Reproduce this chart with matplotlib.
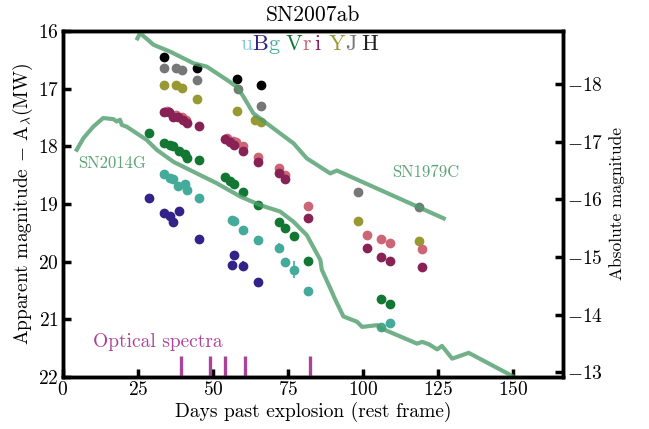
import matplotlib
matplotlib.use('Agg')
import matplotlib.pyplot as plt

plt.rcParams['font.family'] = 'serif'
plt.rcParams['font.serif'] = ['cmr10']
plt.rcParams['mathtext.fontset'] = 'cm'
plt.rcParams['axes.formatter.use_mathtext'] = True

# photometry of SN2007ab (days past explosion, apparent mag)
H_days = [33.7, 44.6, 58.1, 66.0]
H_mag = [16.45, 16.65, 16.83, 16.94]

J_days = [33.7, 37.7, 39.7, 44.6, 58.3, 66.0, 98.2, 118.7]
J_mag = [16.65, 16.65, 16.68, 16.85, 17.00, 17.30, 18.80, 19.05]

Y_days = [33.7, 37.7, 39.7, 44.6, 58.1, 64.0, 66.0, 98.2, 118.7]
Y_mag = [16.94, 16.94, 16.99, 17.18, 17.39, 17.54, 17.58, 19.29, 19.64]

r_days = [34.5, 37.5, 39.5, 41.0, 54.5, 56.5, 57.5, 60.1, 65.1, 71.8, 73.8, 81.6, 101.2, 106.0, 109.0, 119.6]
r_mag = [17.38, 17.45, 17.50, 17.55, 17.86, 17.90, 17.93, 17.99, 18.18, 18.38, 18.50, 19.03, 19.54, 19.61, 19.67, 19.78]

i_days = [33.7, 35.4, 36.6, 38.4, 40.1, 41.4, 45.4, 54.0, 55.7, 57.0, 60.1, 65.1, 71.8, 73.8, 81.6, 101.2, 106.0, 109.0, 119.6]
i_mag = [17.41, 17.40, 17.49, 17.50, 17.54, 17.60, 17.65, 17.88, 17.93, 17.98, 18.09, 18.27, 18.46, 18.57, 19.25, 19.77, 19.92, 19.98, 20.09]
i_err = [0.02] * 15 + [0.07, 0.03, 0.03, 0.03]

V_days = [28.8, 33.7, 35.7, 36.6, 38.6, 40.7, 41.4, 45.4, 54.0, 55.7, 57.0, 60.1, 65.1, 71.8, 73.8, 76.8, 81.6, 106.0, 109.0]
V_mag = [17.77, 17.95, 17.98, 18.00, 18.09, 18.13, 18.21, 18.24, 18.54, 18.61, 18.65, 18.80, 19.02, 19.32, 19.42, 19.55, 19.99, 20.64, 20.74]

g_days = [33.7, 35.7, 36.6, 38.4, 40.7, 41.4, 45.4, 56.2, 57.0, 60.1, 65.1, 71.8, 73.8, 76.8, 81.6, 106.0, 109.0]
g_mag = [18.48, 18.55, 18.57, 18.69, 18.66, 18.75, 18.89, 19.27, 19.29, 19.45, 19.62, 19.76, 20.00, 20.14, 20.51, 21.13, 21.06]
g_err = [0.02] * 11 + [0.08, 0.03, 0.15, 0.03, 0.03, 0.03]

B_days = [28.8, 33.7, 35.7, 36.8, 38.6, 45.4, 56.3, 57.1, 60.1, 65.1]
B_mag = [18.90, 19.15, 19.20, 19.32, 19.12, 19.61, 20.05, 19.88, 20.07, 20.36]
B_err = [0.02, 0.03, 0.03, 0.07, 0.07, 0.06, 0.03, 0.03, 0.09, 0.07]

# comparison templates (shifted)
sn2014g_days = [4.6, 6.8, 10.1, 13.4, 16.8, 17.9, 19.0, 19.6, 21.2, 27.9, 31.2, 36.8, 43.4, 51.2,
                59.0, 65.7, 72.3, 76.8, 81.2, 85.7, 86.2, 89.0, 90.7, 93.4, 97.9, 99.6, 104.6,
                106.2, 117.9, 119.6, 121.8, 124.6, 126.2, 129.6, 135.1, 149.6]
sn2014g_mag = [18.06, 17.86, 17.66, 17.51, 17.53, 17.57, 17.54, 17.63, 17.66, 17.89, 18.06, 18.27,
               18.44, 18.64, 18.87, 19.02, 19.13, 19.31, 19.54, 19.97, 20.14, 20.46, 20.66, 20.95,
               21.04, 21.13, 21.10, 21.16, 21.42, 21.39, 21.43, 21.52, 21.46, 21.68, 21.58, 21.98]

sn1979c_days = [24.8, 25.7, 28.4, 30.1, 35.7, 43.4, 47.9, 54.6, 57.9, 60.1, 63.4, 70.1, 76.8,
                81.2, 89.0, 91.2, 126.8]
sn1979c_mag = [16.13, 16.04, 16.16, 16.24, 16.36, 16.56, 16.62, 16.85, 16.97, 17.14, 17.43, 17.69,
               17.95, 18.21, 18.47, 18.42, 19.25]

spectra_days = [39.2, 48.8, 53.8, 60.7, 82.1]

mu = 34.92  # distance modulus used for the right axis

c_u = '#88ccee'
c_B = '#332288'
c_g = '#44aa99'
c_V = '#117733'
c_r = '#cc6677'
c_i = '#882255'
c_Y = '#999933'
c_J = '#777777'
c_H = '#000000'
c_tmpl = '#4e9d6a'
c_spec = '#aa4499'

fig = plt.figure(figsize=(6.49, 4.29), dpi=100)
ax = fig.add_axes([0.097, 0.121, 0.7705, 0.807])

ms = 6
ax.plot(H_days, H_mag, 'o', color=c_H, ms=ms, zorder=2)
ax.plot(J_days, J_mag, 'o', color=c_J, ms=ms, zorder=2)
ax.plot(Y_days, Y_mag, 'o', color=c_Y, ms=ms, zorder=2)
ax.errorbar(r_days, r_mag, fmt='o', color=c_r, ms=ms, zorder=2)
ax.errorbar(i_days, i_mag, yerr=i_err, fmt='o', color=c_i, ms=ms, elinewidth=1.2, zorder=2)
ax.plot(V_days, V_mag, 'o', color=c_V, ms=ms, zorder=2)
ax.errorbar(g_days, g_mag, yerr=g_err, fmt='o', color=c_g, ms=ms, elinewidth=1.2, zorder=2)
ax.errorbar(B_days, B_mag, yerr=B_err, fmt='o', color=c_B, ms=ms, elinewidth=1.2, zorder=2)

ax.plot(sn2014g_days, sn2014g_mag, color=c_tmpl, lw=3, alpha=0.8, zorder=3)
ax.plot(sn1979c_days, sn1979c_mag, color=c_tmpl, lw=3, alpha=0.8, zorder=3)
ax.text(5, 18.3, 'SN2014G', color='#5aa577', fontsize=12, va='center')
ax.text(109.5, 18.45, 'SN1979C', color='#5aa577', fontsize=12, va='center')

ax.vlines(spectra_days, 21.63, 22.0, color=c_spec, lw=2.4, zorder=4)
ax.text(10, 21.4, 'Optical spectra', color=c_spec, fontsize=14, va='center')

# coloured filter key, letters placed one after another
letters = ['u', 'B', 'g', 'V', 'r', 'i', 'Y', 'J', 'H']
letter_cols = [c_u, c_B, c_g, c_V, c_r, c_i, c_Y, c_J, '#222222']
letter_gap = [0, 0, 0, 4, 0, 2, 5, 0, 3]
prev = ax.text(0.354, 0.96, letters[0], color=letter_cols[0], fontsize=16,
               transform=ax.transAxes, ha='left', va='center')
for lt, lc, gp in zip(letters[1:], letter_cols[1:], letter_gap[1:]):
    prev = ax.annotate(lt, xy=(1, 0), xycoords=prev, xytext=(gp + 0.3, 0),
                       textcoords='offset points', color=lc, fontsize=16,
                       ha='left', va='bottom')

ax.set_xlim(0, 166.5)
ax.set_ylim(22, 16)
ax.set_xticks([0, 25, 50, 75, 100, 125, 150])
ax.set_yticks([16, 17, 18, 19, 20, 21, 22])
ax.set_xlabel('Days past explosion (rest frame)', fontsize=14, labelpad=2)
ax.set_ylabel(r'Apparent magnitude $-$ A$_{\lambda}$(MW)', fontsize=14, labelpad=2)
ax.set_title('SN2007ab', fontsize=15.5, pad=7)

for s in ax.spines.values():
    s.set_linewidth(2.5)
ax.tick_params(direction='in', length=6, width=2.5, labelsize=14, pad=3)
ax.tick_params(top=False, right=False)

ax2 = ax.twinx()
ax2.set_ylim(22 - mu, 16 - mu)
ax2.set_yticks([-18, -17, -16, -15, -14, -13])
ax2.tick_params(direction='in', length=6, width=2.5, labelsize=14, pad=3)
ax2.set_ylabel('Absolute magnitude', fontsize=12.5, labelpad=4)
for s in ax2.spines.values():
    s.set_linewidth(2.5)

fig.savefig('out.png', dpi=100)
